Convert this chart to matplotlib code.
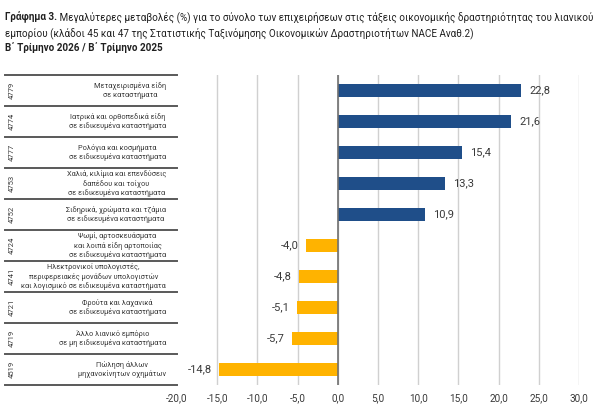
import matplotlib
matplotlib.use("Agg")
import matplotlib.pyplot as plt
import numpy as np

plt.rcParams['font.family'] = ['Roboto', 'DejaVu Sans']

# -------------------------------
# DATA
# -------------------------------
codes = ["4779", "4774", "4777", "4753", "4752", "4724", "4741", "4721", "4719", "4519"]
labels = [
    "Μεταχειρισμένα είδη\nσε καταστήματα",
    "Ιατρικά και ορθοπεδικά είδη\nσε ειδικευμένα καταστήματα",
    "Ρολόγια και κοσμήματα\nσε ειδικευμένα καταστήματα",
    "Χαλιά, κιλίμια και επενδύσεις\nδαπέδου και τοίχου\nσε ειδικευμένα καταστήματα",
    "Σιδηρικά, χρώματα και τζάμια\nσε ειδικευμένα καταστήματα",
    "Ψωμί, αρτοσκευάσματα\nκαι λοιπά είδη αρτοποιίας\nσε ειδικευμένα καταστήματα",
    "Ηλεκτρονικοί υπολογιστές,\nπεριφερειακές μονάδων υπολογιστών\nκαι λογισμικό σε ειδικευμένα καταστήματα",
    "Φρούτα και λαχανικά\nσε ειδικευμένα καταστήματα",
    "Άλλο λιανικό εμπόριο\nσε μη ειδικευμένα καταστήματα",
    "Πώληση άλλων\nμηχανοκίνητων οχημάτων",
]
values = [22.8, 21.6, 15.4, 13.3, 10.9, -4.0, -4.8, -5.1, -5.7, -14.8]
xticks = [-20, -15, -10, -5, 0, 5, 10, 15, 20, 25, 30]

title_bold = "Γράφημα 3."
title_line1 = " Μεγαλύτερες μεταβολές (%) για το σύνολο των επιχειρήσεων στις τάξεις οικονομικής δραστηριότητας του λιανικού"
title_line2 = "εμπορίου (κλάδοι 45 και 47 της Στατιστικής Ταξινόμησης Οικονομικών Δραστηριοτήτων NACE Αναθ.2)"
subtitle = "Β΄ Τρίμηνο 2026 / Β΄ Τρίμηνο 2025"

BLUE = "#1F4E89"
ORANGE = "#FFB300"
TXT = "#3A3A3A"

fig = plt.figure(figsize=(6, 4.2), dpi=100)
ax = fig.add_axes([0.295, 0.0833, 0.67, 0.7381])
renderer = fig.canvas.get_renderer()


def fit_width(t, target_px):
    # shrink/grow a text so its width matches target_px
    w = t.get_window_extent(renderer).width
    t.set_fontsize(t.get_fontsize() * target_px / w)


n = len(values)
y = np.arange(n)
colors = [BLUE if v > 0 else ORANGE for v in values]
ax.barh(y, values, height=0.45, color=colors, zorder=3)
ax.set_ylim(n - 0.5, -0.5)
ax.set_xlim(-20, 30)

for xv in xticks[1:]:
    ax.axvline(xv, color="#D0D0D0", lw=1.0, zorder=1)
ax.axvline(0, color="#707070", lw=1.2, zorder=4)

for i, v in enumerate(values):
    s = f"{v:.1f}".replace(".", ",")
    if v > 0:
        ax.text(v + 1.0, i, s, va="center", ha="left", fontsize=8, color=TXT)
    else:
        ax.text(v - 0.9, i, s, va="center", ha="right", fontsize=8, color=TXT)

ax.set_xticks(xticks)
ax.set_xticklabels([f"{t:.1f}".replace(".", ",") for t in xticks], fontsize=7.2, color=TXT)
ax.tick_params(axis="x", length=0, pad=6)
ax.set_yticks([])
for s in ax.spines.values():
    s.set_visible(False)

# -------------------------------
# LEFT TABLE (codes + labels)
# -------------------------------
px = 1.0 / (0.67 * 600)  # axes fraction per pixel
x_left = -(177 - 5) * px
for k in range(n + 1):
    ax.plot([x_left, 0], [1 - k / n, 1 - k / n], transform=ax.transAxes,
            color="#595959", lw=1.4, clip_on=False)

# font size for the labels from the widest one
probe = fig.text(0, 0, "και λογισμικό σε ειδικευμένα καταστήματα", fontsize=7)
fit_width(probe, 145)
lab_fs = probe.get_fontsize()
probe.remove()

for i in range(n):
    yc = 1 - (i + 0.5) / n
    ax.text(-(177 - 12) * px, yc, codes[i], transform=ax.transAxes, rotation=90,
            ha="center", va="center", fontsize=5.5, color=TXT)
    ax.text(-(177 - 166) * px, yc, labels[i], transform=ax.transAxes,
            ha="right", va="center", multialignment="center", fontsize=lab_fs, color=TXT,
            linespacing=1.3)

# -------------------------------
# TITLE
# -------------------------------
t1 = fig.text(5 / 600, 1 - 11 / 420, title_bold + title_line1, fontsize=9,
              ha="left", va="top")
fit_width(t1, 579)
tfs = t1.get_fontsize()
t1.remove()

tb = fig.text(5 / 600, 1 - 11 / 420, title_bold, fontsize=tfs, fontweight="bold",
              ha="left", va="top", color="#202020")
bb = tb.get_window_extent(renderer)
fig.text(bb.x1 / 600, 1 - 11 / 420, title_line1, fontsize=tfs, ha="left", va="top",
         color="#202020")
fig.text(5 / 600, 1 - 27 / 420, title_line2, fontsize=tfs, ha="left", va="top",
         color="#202020")
fig.text(5 / 600, 1 - 42 / 420, subtitle, fontsize=tfs, fontweight="bold",
         ha="left", va="top", color="#202020")

fig.savefig("out.png", dpi=100, facecolor="white")
